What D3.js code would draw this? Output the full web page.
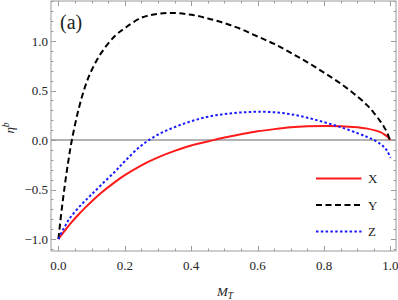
<!DOCTYPE html>
<html>
<head>
<meta charset="utf-8">
<script src="https://cdn.jsdelivr.net/npm/d3@7"></script>
<style>
  html, body { margin: 0; padding: 0; background: #fff; }
  svg { display: block; }
</style>
</head>
<body>
<svg id="chart" width="398" height="300"></svg>
<script>
// ---- data ----
const mT = [0, 0.01, 0.02, 0.03, 0.04, 0.06, 0.08, 0.1, 0.13, 0.17, 0.2, 0.25, 0.3, 0.35, 0.4, 0.45, 0.5, 0.55, 0.6, 0.65, 0.7, 0.75, 0.8, 0.85, 0.9, 0.93, 0.95, 0.97, 0.98, 0.99, 1.0];
const seriesX = [-1.0, -0.955, -0.912, -0.87, -0.83, -0.755, -0.685, -0.62, -0.53, -0.425, -0.355, -0.255, -0.175, -0.11, -0.055, -0.015, 0.025, 0.058, 0.088, 0.11, 0.128, 0.138, 0.142, 0.14, 0.128, 0.115, 0.10, 0.08, 0.06, 0.035, 0.0];
const seriesY = [-1.0, -0.70, -0.44, -0.21, -0.01, 0.30, 0.535, 0.705, 0.885, 1.05, 1.13, 1.235, 1.275, 1.283, 1.265, 1.228, 1.18, 1.12, 1.045, 0.97, 0.88, 0.785, 0.68, 0.57, 0.44, 0.35, 0.275, 0.185, 0.135, 0.075, -0.02];
const seriesZ = [-1.0, -0.93, -0.87, -0.81, -0.765, -0.685, -0.615, -0.55, -0.45, -0.32, -0.215, -0.055, 0.055, 0.13, 0.19, 0.235, 0.262, 0.278, 0.285, 0.28, 0.26, 0.225, 0.18, 0.13, 0.07, 0.03, 0.0, -0.04, -0.07, -0.11, -0.18];
const seriesNames = ["X", "Y", "Z"];
const xTicks = [0, 0.2, 0.4, 0.6, 0.8, 1.0];
const yTicks = [-1.0, -0.5, 0.0, 0.5, 1.0];
const xMinor = d3.range(0, 1.0001, 0.05);
const yMinor = d3.range(-1.1, 1.4001, 0.1);

// ---- layout ----
const FONT = "'Liberation Serif', 'Times New Roman', 'DejaVu Serif', 'Liberation Sans', sans-serif";
const svg = d3.select("#chart").attr("font-family", FONT);
const L = 51, R = 396, T = 1, B = 251;
const x = d3.scaleLinear().domain([-0.0223, 1.0166]).range([L, R]);
const y = d3.scaleLinear().domain([-1.121, 1.404]).range([B, T]);
const frameColor = "#9a9a9a";
const textColor = "#222";

// frame
svg.append("rect").attr("x", L).attr("y", T).attr("width", R - L).attr("height", B - T)
  .attr("fill", "none").attr("stroke", frameColor).attr("stroke-width", 1);

// ticks (inward on all four sides)
const tg = svg.append("g").attr("stroke", frameColor).attr("stroke-width", 1);
const isMajor = (v, arr) => arr.some(t => Math.abs(t - v) < 1e-6);
xMinor.forEach(v => {
  const len = isMajor(v, xTicks) ? 5 : 2.5;
  const px = Math.round(x(v)) + 0.5;
  tg.append("line").attr("x1", px).attr("x2", px).attr("y1", B).attr("y2", B - len);
  tg.append("line").attr("x1", px).attr("x2", px).attr("y1", T).attr("y2", T + len);
});
yMinor.forEach(v => {
  if (y(v) < T || y(v) > B) return;
  const len = isMajor(v, yTicks) ? 5 : 2.5;
  const py = Math.round(y(v)) + 0.5;
  tg.append("line").attr("x1", L).attr("x2", L + len).attr("y1", py).attr("y2", py);
  tg.append("line").attr("x1", R).attr("x2", R - len).attr("y1", py).attr("y2", py);
});

// tick labels
const fmt = v => (v < 0 ? "\u2212" : "") + Math.abs(v).toFixed(1);
svg.append("g").selectAll("text").data(xTicks).join("text")
  .attr("x", d => x(d)).attr("y", 270).attr("text-anchor", "middle")
  .attr("font-family", FONT).attr("font-size", 13).attr("fill", textColor).text(fmt);
svg.append("g").selectAll("text").data(yTicks).join("text")
  .attr("x", 48).attr("y", d => y(d)).attr("dy", "0.35em").attr("text-anchor", "end")
  .attr("font-family", FONT).attr("font-size", 13).attr("fill", textColor).text(fmt);

// zero line
svg.append("line").attr("x1", L).attr("x2", R).attr("y1", y(0)).attr("y2", y(0))
  .attr("stroke", "#999").attr("stroke-width", 1.6);

// curves
svg.append("clipPath").attr("id", "clip").append("rect")
  .attr("x", L).attr("y", T).attr("width", R - L).attr("height", B - T);
const line = d3.line().x(d => x(d[0])).y(d => y(d[1])).curve(d3.curveCatmullRom.alpha(0.5));
const styles = [
  { color: "#ff1a1a", dash: null },
  { color: "#000000", dash: "6,3.5" },
  { color: "#1a1aff", dash: "2.5,2.3" }
];
const allSeries = [seriesX, seriesY, seriesZ];
const pg = svg.append("g").attr("clip-path", "url(#clip)");
allSeries.forEach((vals, i) => {
  pg.append("path").datum(mT.map((m, j) => [m, vals[j]]))
    .attr("fill", "none").attr("stroke", styles[i].color).attr("stroke-width", 2)
    .attr("stroke-dasharray", styles[i].dash).attr("d", line);
});

// legend
const legY = [178.5, 205, 231.5];
seriesNames.forEach((name, i) => {
  svg.append("line").attr("x1", 316).attr("x2", 361.5).attr("y1", legY[i]).attr("y2", legY[i])
    .attr("stroke", styles[i].color).attr("stroke-width", 2).attr("stroke-dasharray", styles[i].dash);
  svg.append("text").attr("x", 368).attr("y", legY[i]).attr("dy", "0.35em")
    .attr("font-family", FONT).attr("font-size", 13).attr("fill", textColor).text(name);
});

// panel label
svg.append("text").attr("x", 60).attr("y", 29).attr("font-family", FONT)
  .attr("font-size", 20).attr("fill", textColor).text("(a)");

// axis labels
const xl = svg.append("text").attr("x", 225).attr("y", 296).attr("text-anchor", "middle")
  .attr("font-family", FONT).attr("font-size", 13).attr("fill", textColor);
xl.append("tspan").attr("font-style", "italic").text("M");
xl.append("tspan").attr("font-style", "italic").attr("font-size", 9.5).attr("dy", 3).text("T");

const yl = svg.append("text").attr("transform", "translate(14,128) rotate(-90)")
  .attr("text-anchor", "middle").attr("font-family", FONT).attr("font-size", 13).attr("fill", textColor);
yl.append("tspan").attr("font-style", "italic").text("\u03B7");
yl.append("tspan").attr("font-style", "italic").attr("font-size", 9.5).attr("dy", -5).text("b");
</script>
</body>
</html>
